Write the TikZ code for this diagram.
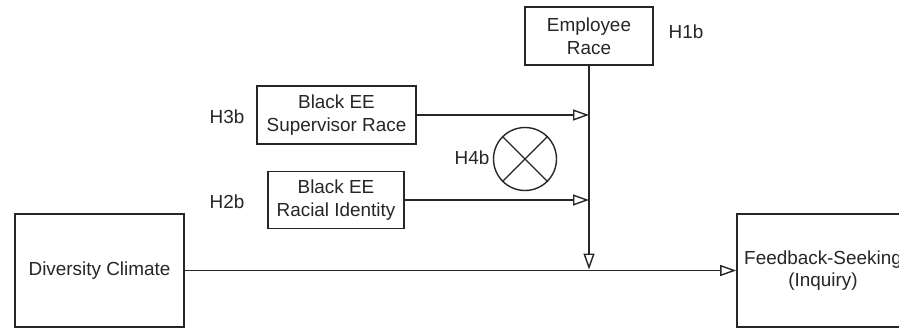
\documentclass[tikz,border=0pt]{standalone}
\usepackage{fontspec}
\setmainfont{Liberation Sans}
\usetikzlibrary{arrows.meta}
\begin{document}
\begin{tikzpicture}[x=1pt,y=-1pt,
  every node/.style={font=\fontsize{18.9}{22.5}\selectfont, text=black!85},
  boxnode/.style={draw=black!85, line width=1.6pt, rectangle, align=center, inner sep=0pt},
  conn/.style={draw=black!85, line width=1.5pt},
  tip/.style={-{Triangle[open,length=16pt,width=11pt,line width=1.4pt]}},
  lbl/.style={inner sep=0pt}]
\useasboundingbox (0,0) rectangle (899,329);
\clip (0,0) rectangle (899,329);
\fill[white] (0,0) rectangle (899,329);
\node[boxnode, minimum width=128pt, minimum height=58pt] (emp) at (589,36) {Employee\\Race};
\node[boxnode, minimum width=159pt, minimum height=58pt] (sup) at (336.5,115) {Black EE\\Supervisor Race};
\node[boxnode, minimum width=136pt, minimum height=57pt] (rid) at (336,200) {Black EE\\Racial Identity};
\node[boxnode, minimum width=169pt, minimum height=113pt] (div) at (99.5,270.5) {Diversity Climate};
\node[boxnode, minimum width=172pt, minimum height=113pt] (fb) at (823,270.5) {Feedback-Seeking\\(Inquiry)};
\node[draw=black!85, line width=1.4pt, circle, minimum size=63pt, inner sep=0pt] (cx) at (525,159) {};
\draw[draw=black!85, line width=1.4pt] (cx.45) -- (cx.225) (cx.135) -- (cx.315);
\node[lbl] (h1) at (686,32) {H1b};
\node[lbl] (h3) at (227,117) {H3b};
\node[lbl] (h4) at (472,158) {H4b};
\node[lbl] (h2) at (227,202) {H2b};
\coordinate (j1) at (589,115);
\coordinate (j2) at (589,200);
\coordinate (j3) at (589,269.5);
\draw[conn, tip] (emp.south) -- (j3);
\draw[conn, tip] (sup.east) -- (j1);
\draw[conn, tip] (rid.east) -- (j2);
\draw[conn, tip] (div.east) -- (fb.west);
\end{tikzpicture}
\end{document}
